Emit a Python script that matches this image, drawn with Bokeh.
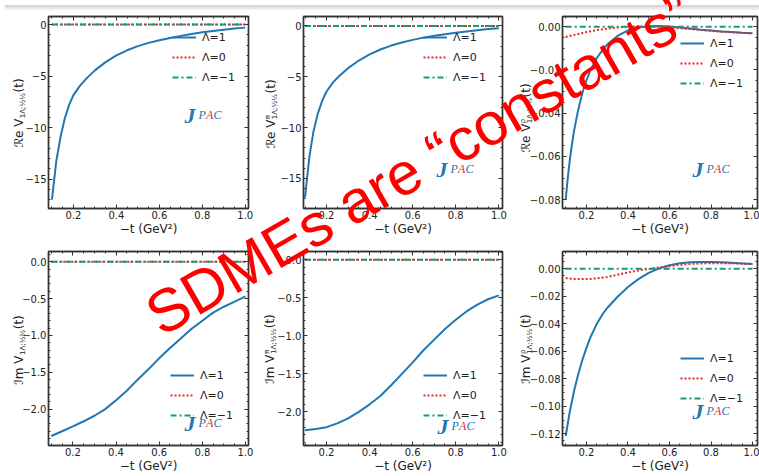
from bokeh.plotting import figure
from bokeh.layouts import gridplot, column
from bokeh.models import (Range1d, LinearAxis, SingleIntervalTicker, CustomJSTickFormatter,
                          Label, Legend, LegendItem, Div)
from bokeh.embed import file_html
from bokeh.resources import INLINE

# ---------------- data ----------------
t_re = [0.10, 0.12, 0.14, 0.16, 0.18, 0.20, 0.23, 0.26, 0.30, 0.35, 0.40, 0.45, 0.50,
        0.55, 0.60, 0.65, 0.70, 0.75, 0.80, 0.85, 0.90, 0.95, 1.00]
re_v_l1 = [-17.0, -13.3, -10.9, -9.1, -7.8, -6.85, -5.95, -5.25, -4.45, -3.65, -3.0, -2.5,
           -2.1, -1.78, -1.52, -1.30, -1.10, -0.92, -0.76, -0.62, -0.50, -0.39, -0.30]
re_vpi_l1 = [-16.9, -12.9, -10.3, -8.6, -7.35, -6.45, -5.55, -4.9, -4.15, -3.4, -2.8, -2.32,
             -1.93, -1.62, -1.37, -1.15, -0.97, -0.81, -0.67, -0.54, -0.42, -0.31, -0.22]

t_zero = [0.10, 1.00]
zero_line = [0.0, 0.0]

t_rho = [0.10, 0.11, 0.12, 0.13, 0.14, 0.16, 0.18, 0.20, 0.22, 0.25, 0.28, 0.30, 0.35, 0.40,
         0.45, 0.50, 0.55, 0.60, 0.65, 0.70, 0.75, 0.80, 0.85, 0.90, 0.95, 1.00]
re_vrho_l1 = [-0.0800, -0.0700, -0.0615, -0.0545, -0.0483, -0.0385, -0.0308, -0.0248, -0.0200,
              -0.0145, -0.0105, -0.0083, -0.0043, -0.0017, -0.0004, 0.0002, 0.0003, 0.0001,
              -0.0004, -0.0009, -0.0014, -0.0018, -0.0022, -0.0025, -0.0028, -0.0030]

t_im = [0.10, 0.15, 0.20, 0.25, 0.30, 0.35, 0.40, 0.45, 0.50, 0.55, 0.60, 0.65, 0.70,
        0.75, 0.80, 0.85, 0.90, 0.95, 1.00]
re_vrho_l0 = [-0.0048, -0.0036, -0.0025, -0.0016, -0.0009, -0.0004, 0.0000, 0.0001, 0.0001,
              0.0000, -0.0003, -0.0007, -0.0011, -0.0015, -0.0019, -0.0023, -0.0026, -0.0029,
              -0.0031]
im_v_l1 = [-2.365, -2.30, -2.235, -2.165, -2.09, -2.00, -1.88, -1.75, -1.60, -1.46, -1.31,
           -1.17, -1.04, -0.91, -0.80, -0.69, -0.61, -0.54, -0.47]
im_vpi_l1 = [-2.24, -2.225, -2.20, -2.15, -2.085, -2.00, -1.90, -1.79, -1.65, -1.50, -1.35,
             -1.19, -1.05, -0.91, -0.79, -0.68, -0.59, -0.52, -0.47]

t_imrho = [0.10, 0.12, 0.14, 0.16, 0.18, 0.20, 0.22, 0.25, 0.28, 0.30, 0.35, 0.40, 0.45,
           0.50, 0.55, 0.60, 0.65, 0.70, 0.75, 0.80, 0.85, 0.90, 0.95, 1.00]
im_vrho_l1 = [-0.1215, -0.1035, -0.0890, -0.0768, -0.0665, -0.0575, -0.0495, -0.0400,
              -0.0325, -0.0285, -0.0203, -0.0133, -0.0075, -0.0030, 0.0003, 0.0025, 0.0040,
              0.0047, 0.0050, 0.0050, 0.0048, 0.0044, 0.0039, 0.0034]
im_vrho_l0 = [-0.0068, -0.0075, -0.0075, -0.0070, -0.0060, -0.0043, -0.0027, -0.0012, -0.0001,
              0.0010, 0.0019, 0.0028, 0.0035, 0.0039, 0.0041, 0.0041, 0.0040, 0.0038, 0.0035]

legend_labels = ["Λ=1", "Λ=0", "Λ=−1"]
x_label = "−t (GeV²)"
overlay_text = "SDMEs are “constants”"

# ---------------- style ----------------
BLUE = "#2077b4"
RED = "#e8262b"
GREEN = "#139e72"
FRAME = "#333333"
TXT = "#222222"
SANS = "DejaVu Sans"

COL_X = [0, 255, 508]
COL_W = [255, 253, 251]
ROW_Y = [0, 238]
ROW_H = [238, 238]


def fmt(nd):
    return CustomJSTickFormatter(code=f"""
        var v = Math.abs(tick) < 1e-9 ? 0 : tick;
        return v.toFixed({nd}).replace('-', '\\u2212');
    """)


def style_axis(ax, ticker, formatter, show_labels=True):
    ax.ticker = ticker
    ax.formatter = formatter
    ax.axis_line_color = FRAME
    ax.axis_line_width = 1.4
    ax.major_tick_line_color = FRAME
    ax.minor_tick_line_color = FRAME
    ax.major_tick_in = 4
    ax.major_tick_out = 0
    ax.minor_tick_in = 2
    ax.minor_tick_out = 0
    ax.major_label_text_font = SANS
    ax.major_label_text_color = TXT
    if show_labels:
        ax.major_label_text_font_size = "10px"
        ax.major_label_standoff = 2
    else:
        ax.major_label_text_font_size = "1px"
        ax.major_label_standoff = 0


def make_panel(col, row, frame, xr, yr, y_int, y_minor, y_nd, blue, red, green,
               leg_xy, jpac_xy):
    fl, fr, ft, fb = frame
    x0, y0, w, h = COL_X[col], ROW_Y[row], COL_W[col], ROW_H[row]
    p = figure(width=w, height=h, x_range=Range1d(*xr), y_range=Range1d(*yr),
               output_backend="svg", toolbar_location=None,
               min_border_left=fl - x0, min_border_right=x0 + w - fr,
               min_border_top=ft - y0, min_border_bottom=y0 + h - fb,
               x_axis_label=x_label)
    p.xgrid.visible = False
    p.ygrid.visible = False
    p.outline_line_color = FRAME
    p.outline_line_width = 1.4
    p.background_fill_color = "white"
    p.border_fill_color = "white"

    style_axis(p.xaxis[0], SingleIntervalTicker(interval=0.2, num_minor_ticks=4), fmt(1))
    style_axis(p.yaxis[0], SingleIntervalTicker(interval=y_int, num_minor_ticks=y_minor),
               fmt(y_nd))
    p.xaxis[0].axis_label_text_font = SANS
    p.xaxis[0].axis_label_text_font_size = "12px"
    p.xaxis[0].axis_label_text_font_style = "normal"
    p.xaxis[0].axis_label_text_color = TXT
    p.xaxis[0].axis_label_standoff = 0

    top = LinearAxis()
    style_axis(top, SingleIntervalTicker(interval=0.2, num_minor_ticks=4),
               CustomJSTickFormatter(code="return ''"), show_labels=False)
    p.add_layout(top, "above")
    right = LinearAxis()
    style_axis(right, SingleIntervalTicker(interval=y_int, num_minor_ticks=y_minor),
               CustomJSTickFormatter(code="return ''"), show_labels=False)
    p.add_layout(right, "right")

    rb = p.line(blue[0], blue[1], line_color=BLUE, line_width=2)
    rr = p.line(red[0], red[1], line_color=RED, line_width=2, line_dash="2 2")
    rg = p.line(green[0], green[1], line_color=GREEN, line_width=2, line_dash="6 3 2 3")

    leg = Legend(items=[LegendItem(label=legend_labels[0], renderers=[rb]),
                        LegendItem(label=legend_labels[1], renderers=[rr]),
                        LegendItem(label=legend_labels[2], renderers=[rg])],
                 location=(leg_xy[0] - fl, fb - leg_xy[1]))
    leg.background_fill_alpha = 0
    leg.border_line_alpha = 0
    leg.label_text_font = SANS
    leg.label_text_font_size = "11px"
    leg.label_text_color = TXT
    leg.glyph_width = 24
    leg.glyph_height = 14
    leg.label_height = 14
    leg.label_standoff = 6
    leg.spacing = 6
    leg.padding = 0
    leg.margin = 0
    p.add_layout(leg)

    # JPAC mark (inside the frame)
    jx, jy = jpac_xy[0] - fl, fb - jpac_xy[1]
    p.add_layout(Label(x=jx, y=jy, x_units="screen", y_units="screen", text="J",
                       text_font="Liberation Serif", text_font_style="bold italic",
                       text_font_size="22px", text_color=BLUE))
    for dx, ch, c in ((14, "P", BLUE), (21.5, "A", RED), (29, "C", BLUE)):
        p.add_layout(Label(x=jx + dx, y=jy + 5.5, x_units="screen", y_units="screen",
                           text=ch, text_font="Liberation Serif", text_font_style="italic",
                           text_font_size="12px", text_color=c))
    return p


p1 = make_panel(0, 0, (46, 248, 8, 210), (0.084, 1.015), (-17.86, 0.78), 5, 5, 0,
                (t_re, re_v_l1), (t_zero, zero_line), (t_zero, zero_line),
                (170, 86), (182, 129))
p2 = make_panel(1, 0, (303, 502, 8, 211), (0.093, 1.017), (-17.96, 0.93), 5, 5, 0,
                (t_re, re_vpi_l1), (t_zero, zero_line), (t_zero, zero_line),
                (423, 87), (436, 184))
p3 = make_panel(2, 0, (562, 757, 16, 211), (0.0846, 1.024), (-0.0841, 0.0047), 0.02, 4, 2,
                (t_rho, re_vrho_l1), (t_im, re_vrho_l0), (t_zero, zero_line),
                (680, 93), (692, 184))
p4 = make_panel(0, 1, (48, 248, 244, 445), (0.087, 1.014), (-2.494, 0.14), 0.5, 5, 1,
                (t_im, im_v_l1), (t_zero, zero_line), (t_zero, zero_line),
                (170, 422), (184, 435))
p5 = make_panel(1, 1, (303, 502, 247, 445), (0.093, 1.017), (-2.441, 0.107), 0.5, 5, 1,
                (t_im, im_vpi_l1), (t_zero, zero_line), (t_zero, zero_line),
                (423, 422), (437, 438))
p6 = make_panel(2, 1, (562, 757, 251, 445), (0.0846, 1.024), (-0.1284, 0.01255), 0.02, 4, 2,
                (t_imrho, im_vrho_l1), (t_im, im_vrho_l0), (t_zero, zero_line),
                (680, 405), (692, 423))

grid = gridplot([[p1, p2, p3], [p4, p5, p6]], toolbar_location=None)

# ---------------- HTML text layer: y-axis labels with sub/superscripts + overlay ----------
IDX_STYLE = ("display:inline-block;vertical-align:-2px;font-size:7px;line-height:7px;"
             "margin-left:0.5px;margin-right:0.5px")


def ylabel_html(cx, cy, prefix, sup):
    idx_text = f"{sup}<br>1Λ;½½" if sup else "1Λ;½½"
    idx = f"<span style=\"{IDX_STYLE}\">{idx_text}</span>"
    return (f"<div style=\"position:absolute;left:{cx}px;top:{cy}px;"
            f"transform:translate(-50%,-50%) rotate(-90deg);white-space:nowrap;"
            f"font-family:'DejaVu Sans';font-size:12px;line-height:12px;color:{TXT}\">"
            f"{prefix} V{idx}(t)</div>")


ylabels = [(15, 108, "ℛe", None), (267, 108.5, "ℛe", "π"), (522, 113, "ℛe", "ρ"),
           (15, 345, "ℐm", None), (266, 344, "ℐm", "π"), (522, 343.5, "ℐm", "ρ")]

html = ("<div style=\"position:absolute;left:0;top:0;width:759px;height:5px;"
        "background:linear-gradient(#cfcfcf,#f6f6f6)\"></div>")
html += "".join(ylabel_html(*a) for a in ylabels)
html += ("<div style=\"position:absolute;left:157px;top:333px;width:0;height:0;"
         "transform-origin:0 0;transform:rotate(-30deg)\">"
         "<span style=\"position:absolute;left:0;bottom:-9px;white-space:nowrap;"
         "font-family:'Liberation Sans';font-size:60px;line-height:60px;color:#ff0000\">"
         f"{overlay_text}</span></div>")

layer = Div(text=html, width=759, height=476,
            styles={"position": "absolute", "left": "0px", "top": "0px",
                    "pointer-events": "none", "z-index": "10", "overflow": "visible"})

page = column(grid, layer, spacing=0)

open("out.html", "w").write(file_html(page, INLINE))
